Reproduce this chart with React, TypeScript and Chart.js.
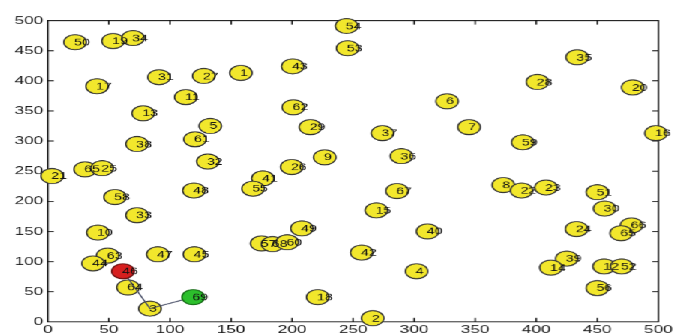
import React, { useEffect, useRef } from "react";
import { Chart, registerables } from "chart.js";

Chart.register(...registerables);

// ---- data ----
const nodeLabels = [
  "50", "19", "34", "17", "31", "27", "11", "13", "1", "43", "54", "53", "62",
  "35", "28", "20", "6", "7", "16", "59", "8", "22", "23", "51", "30",
  "5", "61", "38", "32", "21", "65", "25", "48", "58", "33",
  "29", "37", "9", "36", "26", "41", "55", "67", "15",
  "49", "40", "57", "68", "60", "42", "4", "18", "2",
  "10", "63", "44", "47", "45", "64", "3",
  "24", "66", "65", "39", "14", "12", "52", "56",
];
const nodeX = [
  22.3, 53.4, 69.7, 40.3, 91, 127.7, 113, 78, 158, 200.5, 244.6, 245.5, 201,
  433.5, 401, 479, 327, 345, 498, 389, 373, 388, 408, 450, 456,
  133, 120.5, 73, 131, 3.5, 30.5, 44.5, 119.6, 55, 73,
  215, 274, 226.7, 289.6, 199.7, 176, 168, 286, 269,
  208, 311, 175, 184, 196, 257, 302, 221, 266,
  41, 49, 37, 90, 120, 65.6, 83.6,
  433, 478, 469.5, 425, 412, 455.6, 470, 450,
];
const nodeY = [
  464, 466, 471, 391, 406, 408, 373, 346, 413, 424, 491, 454, 356,
  439, 398, 389, 366, 323, 313, 298, 227, 218, 223, 215, 188,
  325, 303, 295, 266, 242, 253, 255, 218, 207, 177,
  323, 313, 273, 275, 257, 238, 221, 217, 185,
  155, 150, 130, 129, 132, 115, 84, 41, 6,
  148, 110, 97, 112, 112, 57, 22,
  154, 160, 147, 105, 90, 92, 92, 56,
];

const startLabel = ["46"];
const startX = [61.5];
const startY = [84];

const endLabel = ["69"];
const endX = [119];
const endY = [41];

const routeX = [61.5, 83.6, 119];
const routeY = [84, 22, 41];

const xTickValues = [0, 50, 100, 150, 200, 250, 300, 350, 400, 450, 500];
const yTickValues = [0, 50, 100, 150, 200, 250, 300, 350, 400, 450, 500];

// ---- layout ----
const STRETCH = 1.5;
const PAGE_W = 683;
const PAGE_H = 335;

const toPts = (xs: number[], ys: number[]) => xs.map((x, i) => ({ x, y: ys[i] }));

const boxPlugin = {
  id: "matlabBox",
  beforeDatasetsDraw(chart: any) {
    const { ctx, chartArea, scales } = chart;
    const { left, right, top, bottom } = chartArea;
    ctx.save();
    ctx.strokeStyle = "#111";
    ctx.lineWidth = 1;
    ctx.strokeRect(left, top, right - left, bottom - top);
    ctx.beginPath();
    const tlV = 4;
    const tlH = 4;
    for (const v of xTickValues) {
      if (v === xTickValues[0] || v === xTickValues[xTickValues.length - 1]) continue;
      const px = scales.x.getPixelForValue(v);
      ctx.moveTo(px, bottom);
      ctx.lineTo(px, bottom - tlV);
      ctx.moveTo(px, top);
      ctx.lineTo(px, top + tlV);
    }
    for (const v of yTickValues) {
      if (v === yTickValues[0] || v === yTickValues[yTickValues.length - 1]) continue;
      const py = scales.y.getPixelForValue(v);
      ctx.moveTo(left, py);
      ctx.lineTo(left + tlH, py);
      ctx.moveTo(right, py);
      ctx.lineTo(right - tlH, py);
    }
    ctx.stroke();
    ctx.restore();
  },
};

const labelPlugin = {
  id: "nodeLabels",
  afterDatasetsDraw(chart: any) {
    const { ctx } = chart;
    ctx.save();
    ctx.fillStyle = "#111";
    ctx.font = "9.5px 'Liberation Sans', Arial, sans-serif";
    ctx.textAlign = "left";
    ctx.textBaseline = "middle";
    chart.data.datasets.forEach((ds: any, di: number) => {
      if (!ds.nodeText) return;
      const meta = chart.getDatasetMeta(di);
      meta.data.forEach((el: any, i: number) => {
        ctx.fillText(ds.nodeText[i], el.x - 0.6, el.y + 0.5);
      });
    });
    ctx.restore();
  },
};

function ChartView() {
  const ref = useRef<HTMLCanvasElement | null>(null);
  useEffect(() => {
    if (!ref.current) return;
    const tickFont = { family: "'Liberation Sans', Arial, sans-serif", size: 11.5 };
    const chart = new Chart(ref.current, {
      type: "scatter",
      data: {
        datasets: [
          {
            data: toPts(nodeX, nodeY),
            nodeText: nodeLabels,
            backgroundColor: "#f2e72c",
            borderColor: "#333",
            borderWidth: 1,
            pointRadius: 7.5,
            clip: false,
            order: 4,
          } as any,
          {
            data: toPts(routeX, routeY),
            showLine: true,
            borderColor: "#4a5068",
            borderWidth: 1,
            pointRadius: 0,
            clip: false,
            order: 3,
          } as any,
          {
            data: toPts(startX, startY),
            nodeText: startLabel,
            backgroundColor: "#d61f1f",
            borderColor: "#6a1010",
            borderWidth: 1,
            pointRadius: 7.5,
            clip: false,
            order: 2,
          } as any,
          {
            data: toPts(endX, endY),
            nodeText: endLabel,
            backgroundColor: "#2cbf2c",
            borderColor: "#176b17",
            borderWidth: 1,
            pointRadius: 7.5,
            clip: false,
            order: 1,
          } as any,
        ],
      },
      options: {
        animation: false,
        responsive: true,
        maintainAspectRatio: false,
        devicePixelRatio: STRETCH,
        events: [],
        layout: { padding: { top: 20.5, right: (PAGE_W - 659) / STRETCH, bottom: 0, left: 0 } },
        plugins: { legend: { display: false }, tooltip: { enabled: false } },
        scales: {
          x: {
            type: "linear",
            min: 0,
            max: 500,
            afterBuildTicks: (s: any) => {
              s.ticks = xTickValues.map((v) => ({ value: v }));
            },
            afterFit: (s: any) => {
              s.height = PAGE_H - 321.5;
            },
            grid: { display: false, drawTicks: false },
            border: { display: false },
            ticks: { font: tickFont, color: "#1a1a1a", padding: 1, maxRotation: 0, autoSkip: false },
          },
          y: {
            type: "linear",
            min: 0,
            max: 500,
            afterBuildTicks: (s: any) => {
              s.ticks = yTickValues.map((v) => ({ value: v }));
            },
            afterFit: (s: any) => {
              s.width = 47.7 / STRETCH;
            },
            grid: { display: false, drawTicks: false },
            border: { display: false },
            ticks: { font: tickFont, color: "#1a1a1a", padding: 3, autoSkip: false },
          },
        },
      } as any,
      plugins: [boxPlugin, labelPlugin],
    });
    return () => chart.destroy();
  }, []);
  return (
    <div
      style={{
        position: "absolute",
        left: 0,
        top: 0,
        width: PAGE_W / STRETCH,
        height: PAGE_H,
        transform: `scaleX(${STRETCH})`,
        transformOrigin: "0 0",
        background: "#fff",
      }}
    >
      <canvas ref={ref} />
    </div>
  );
}

export default function App() {
  return <ChartView />;
}
